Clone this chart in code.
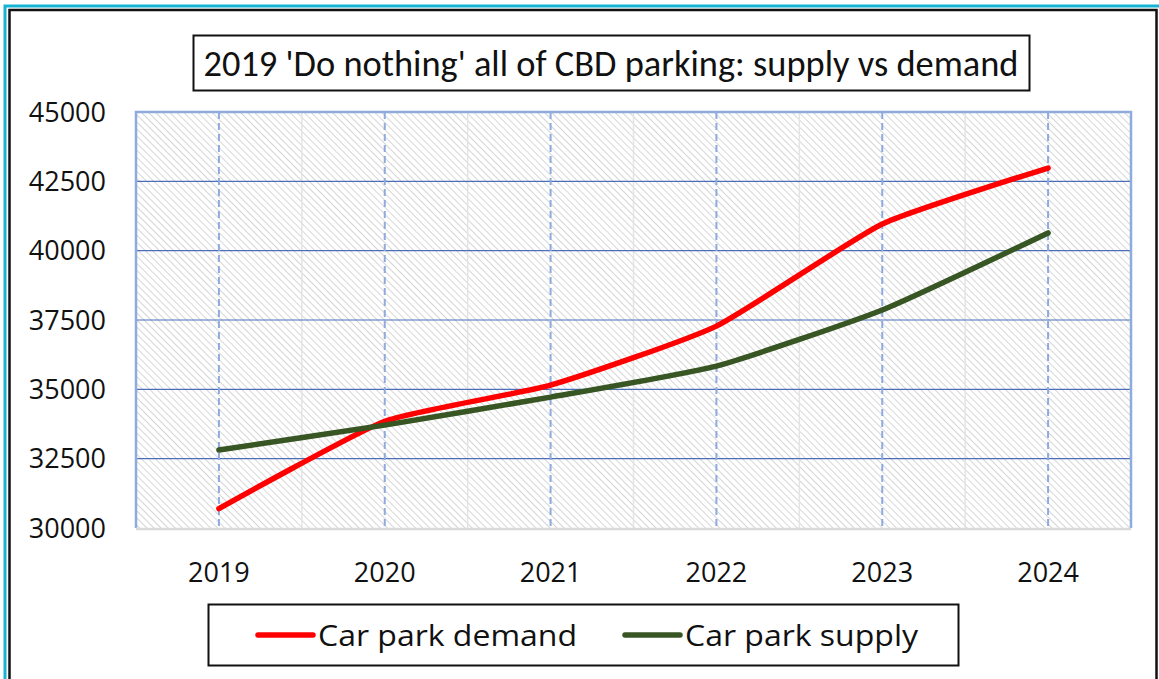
<!DOCTYPE html>
<html>
<head>
<meta charset="utf-8">
<script src="https://cdn.jsdelivr.net/npm/d3@7"></script>
<style>
  body { margin: 0; background: #fff; }
  text { font-family: "Open Sans", "Noto Sans", "DejaVu Sans", sans-serif; }
  .title { font-family: Carlito, Calibri, "Open Sans", sans-serif; }
</style>
</head>
<body>
<div id="chart"></div>
<script>
const years = ["2019", "2020", "2021", "2022", "2023", "2024"];
const demand = [30700, 33850, 35150, 37280, 40960, 42980];
const supply = [32810, 33710, 34720, 35840, 37860, 40640];
const yTicks = [30000, 32500, 35000, 37500, 40000, 42500, 45000];
const seriesNames = ["Car park demand", "Car park supply"];
const seriesColors = ["#ff0000", "#375623"];

const width = 1159;
const height = 679;
const plot = { left: 136, right: 1131, top: 112, bottom: 528 };

const svg = d3
  .select("#chart")
  .append("svg")
  .attr("width", width)
  .attr("height", height)
  .attr("viewBox", [0, 0, width, height]);

// hatch fill for the plot area
const defs = svg.append("defs");
const pat = defs
  .append("pattern")
  .attr("id", "hatch")
  .attr("patternUnits", "userSpaceOnUse")
  .attr("width", 5)
  .attr("height", 5)
  .attr("patternTransform", "rotate(-45)");
pat.append("rect").attr("width", 5).attr("height", 5).attr("fill", "#fff");
pat.append("line")
  .attr("x1", 0).attr("y1", 0).attr("x2", 0).attr("y2", 5)
  .attr("stroke", "#d6d6d6").attr("stroke-width", 2);

// outer frame
svg.append("rect")
  .attr("x", 5).attr("y", 6).attr("width", width + 10).attr("height", height + 10)
  .attr("fill", "none").attr("stroke", "#16b4d4").attr("stroke-width", 3);
svg.append("rect")
  .attr("x", 9.5).attr("y", 10).attr("width", 1147).attr("height", height + 10)
  .attr("fill", "#fff").attr("stroke", "#111").attr("stroke-width", 2.5);

const x = d3
  .scaleBand()
  .domain(years)
  .range([plot.left, plot.right]);

const y = d3
  .scaleLinear()
  .domain([30000, 45000])
  .range([plot.bottom, plot.top]);

// plot background
svg.append("rect")
  .attr("x", plot.left).attr("y", plot.top)
  .attr("width", plot.right - plot.left).attr("height", plot.bottom - plot.top)
  .attr("fill", "url(#hatch)");

// light gray category separators
svg.append("g")
  .selectAll()
  .data(years.slice(1))
  .join("line")
  .attr("x1", (d) => x(d)).attr("x2", (d) => x(d))
  .attr("y1", plot.top).attr("y2", plot.bottom)
  .attr("stroke", "#e4e4e4").attr("stroke-width", 1.5);

// horizontal gridlines
svg.append("g")
  .selectAll()
  .data(yTicks.slice(1, -1))
  .join("line")
  .attr("x1", plot.left).attr("x2", plot.right)
  .attr("y1", (d) => y(d)).attr("y2", (d) => y(d))
  .attr("stroke", "#4a6fb8").attr("stroke-width", 1.2);

// dashed vertical gridlines at category centers
svg.append("g")
  .selectAll()
  .data(years)
  .join("line")
  .attr("x1", (d) => x(d) + x.bandwidth() / 2)
  .attr("x2", (d) => x(d) + x.bandwidth() / 2)
  .attr("y1", plot.top).attr("y2", plot.bottom)
  .attr("stroke", "#8eaadf").attr("stroke-width", 2)
  .attr("stroke-dasharray", "7,4");

// plot border
svg.append("path")
  .attr("d", `M${plot.left},${plot.bottom}V${plot.top}H${plot.right}V${plot.bottom}`)
  .attr("fill", "none").attr("stroke", "#8faadc").attr("stroke-width", 2.5);
svg.append("line")
  .attr("x1", plot.left).attr("x2", plot.right)
  .attr("y1", plot.bottom + 1).attr("y2", plot.bottom + 1)
  .attr("stroke", "#d9d9d9").attr("stroke-width", 2.5);

// axis labels
svg.append("g")
  .selectAll()
  .data(yTicks)
  .join("text")
  .attr("x", 106)
  .attr("y", (d) => y(d))
  .attr("dy", "0.36em")
  .attr("text-anchor", "end")
  .attr("font-size", 27)
  .attr("fill", "#111")
  .text((d) => d);

svg.append("g")
  .selectAll()
  .data(years)
  .join("text")
  .attr("x", (d) => x(d) + x.bandwidth() / 2)
  .attr("y", 572)
  .attr("dy", "0.36em")
  .attr("text-anchor", "middle")
  .attr("font-size", 27)
  .attr("fill", "#111")
  .text((d) => d);

// lines
const line = d3
  .line()
  .x((d, i) => x(years[i]) + x.bandwidth() / 2)
  .y((d) => y(d))
  .curve(d3.curveCardinal.tension(0.5));

[demand, supply].forEach((vals, i) => {
  svg.append("path")
    .datum(vals)
    .attr("d", line)
    .attr("fill", "none")
    .attr("stroke", seriesColors[i])
    .attr("stroke-width", 5.5)
    .attr("stroke-linecap", "round")
    .attr("stroke-linejoin", "round");
});

// title
svg.append("rect")
  .attr("x", 193.5).attr("y", 35.5).attr("width", 836).attr("height", 55)
  .attr("fill", "#fff").attr("stroke", "#111").attr("stroke-width", 2);
svg.append("text")
  .attr("class", "title")
  .attr("x", 611)
  .attr("y", 63)
  .attr("dy", "0.35em")
  .attr("text-anchor", "middle")
  .attr("font-size", 37)
  .attr("fill", "#111")
  .attr("textLength", 815)
  .attr("lengthAdjust", "spacingAndGlyphs")
  .text("2019 'Do nothing' all of CBD parking: supply vs demand");

// legend
svg.append("rect")
  .attr("x", 208.5).attr("y", 604.5).attr("width", 750).attr("height", 61)
  .attr("fill", "#fff").attr("stroke", "#111").attr("stroke-width", 2);
const legendX = [258, 625];
const legendLen = [259, 233];
seriesNames.forEach((name, i) => {
  svg.append("line")
    .attr("x1", legendX[i]).attr("x2", legendX[i] + 55)
    .attr("y1", 635).attr("y2", 635)
    .attr("stroke", seriesColors[i]).attr("stroke-width", 5.5)
    .attr("stroke-linecap", "round");
  svg.append("text")
    .attr("x", legendX[i] + 60)
    .attr("y", 635)
    .attr("dy", "0.36em")
    .attr("font-size", 30)
    .attr("fill", "#111")
    .attr("textLength", legendLen[i])
    .attr("lengthAdjust", "spacingAndGlyphs")
    .text(name);
});
</script>
</body>
</html>
